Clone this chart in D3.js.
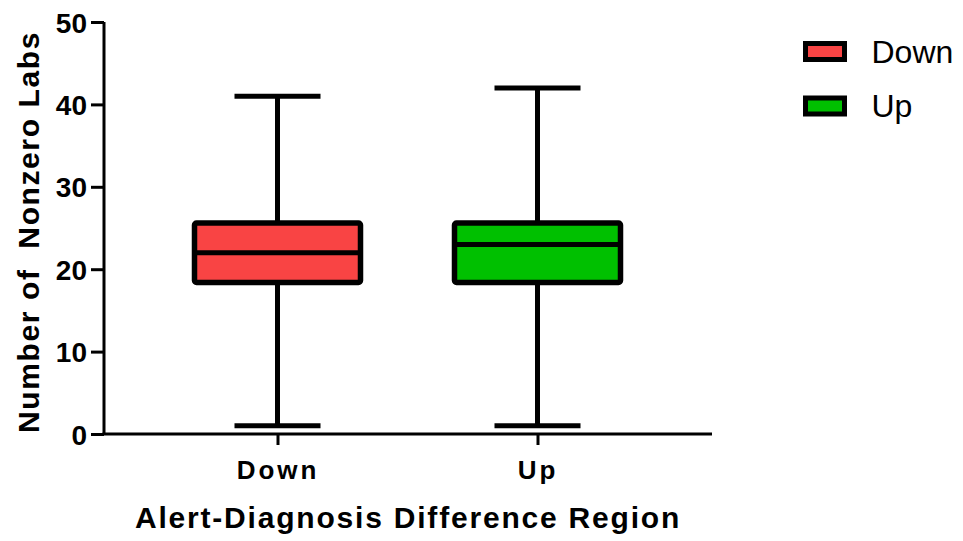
<!DOCTYPE html>
<html>
<head>
<meta charset="utf-8">
<script src="https://cdn.jsdelivr.net/npm/d3@7"></script>
<style>
  html, body { margin: 0; padding: 0; background: #fff; }
  svg { display: block; font-family: "Liberation Sans", Arial, sans-serif; }
</style>
</head>
<body>
<svg id="chart" width="963" height="541"></svg>
<script>
// Box-plot summaries per group
const categories = ["Down", "Up"];
const whiskerMin = [1, 1];
const q1 = [18.4, 18.4];
const median = [22, 23];
const q3 = [25.6, 25.6];
const whiskerMax = [41, 42];
const fillColors = ["#F94444", "#00C000"];
const yTicks = [0, 10, 20, 30, 40, 50];

const svg = d3.select("#chart");
const margin = { left: 104, top: 22, bottom: 107 };
const W = 963, H = 541;

const y = d3.scaleLinear().domain([0, 50]).range([H - margin.bottom, margin.top]);
const x = d3.scalePoint().domain(categories).range([277.5, 537.5]);

const boxW = 166, capW = 86;

// Y axis
const yAxis = svg.append("g")
  .attr("transform", `translate(${margin.left},0)`)
  .call(d3.axisLeft(y).tickValues(yTicks).tickSize(13).tickPadding(4).tickFormat(d3.format("d")));
yAxis.select(".domain").attr("stroke", "#000").attr("stroke-width", 3)
  .attr("d", `M0,${y(50)}V${y(0)}`);
yAxis.selectAll(".tick line").attr("stroke", "#000").attr("stroke-width", 3);
yAxis.selectAll(".tick text").attr("font-size", 28).attr("font-weight", "bold")
  .attr("fill", "#000").attr("dy", "0.36em");

// X axis
const xAxis = svg.append("g")
  .attr("transform", `translate(0,${y(0)})`)
  .call(d3.axisBottom(x).tickSize(11).tickPadding(16));
xAxis.select(".domain").attr("stroke", "#000").attr("stroke-width", 3)
  .attr("d", `M${margin.left - 1.5},0H712`);
xAxis.selectAll(".tick line").attr("stroke", "#000").attr("stroke-width", 3);
xAxis.selectAll(".tick text").attr("font-size", 26).attr("font-weight", "bold")
  .attr("letter-spacing", 3).attr("fill", "#000");

// Boxes and whiskers
const groups = svg.append("g").selectAll("g").data(categories).join("g");
groups.each(function (c, i) {
  const g = d3.select(this);
  const cx = x(c);
  // whiskers
  g.append("line").attr("x1", cx).attr("x2", cx).attr("y1", y(whiskerMin[i])).attr("y2", y(q1[i]))
    .attr("stroke", "#000").attr("stroke-width", 5);
  g.append("line").attr("x1", cx).attr("x2", cx).attr("y1", y(q3[i])).attr("y2", y(whiskerMax[i]))
    .attr("stroke", "#000").attr("stroke-width", 5);
  // caps
  [whiskerMin[i], whiskerMax[i]].forEach(v => {
    g.append("line").attr("x1", cx - capW / 2).attr("x2", cx + capW / 2).attr("y1", y(v)).attr("y2", y(v))
      .attr("stroke", "#000").attr("stroke-width", 5);
  });
  // box
  g.append("rect").attr("x", cx - boxW / 2).attr("y", y(q3[i]))
    .attr("width", boxW).attr("height", y(q1[i]) - y(q3[i]))
    .attr("fill", fillColors[i]).attr("stroke", "#000").attr("stroke-width", 5.5)
    .attr("rx", 2);
  // median
  g.append("line").attr("x1", cx - boxW / 2).attr("x2", cx + boxW / 2)
    .attr("y1", y(median[i])).attr("y2", y(median[i]))
    .attr("stroke", "#000").attr("stroke-width", 5);
});

// Axis titles
svg.append("text").attr("x", 408).attr("y", 528).attr("text-anchor", "middle")
  .attr("font-size", 30).attr("font-weight", "bold").attr("letter-spacing", 1.8)
  .text("Alert-Diagnosis Difference Region");
svg.append("text").attr("transform", `translate(39,232) rotate(-90)`).attr("text-anchor", "middle")
  .attr("font-size", 30).attr("font-weight", "bold").attr("letter-spacing", 1.6)
  .attr("xml:space", "preserve")
  .text("Number of  Nonzero Labs");

// Legend
const legend = svg.append("g").selectAll("g").data(categories).join("g")
  .attr("transform", (d, i) => `translate(805.5,${51.5 + i * 54.5})`);
legend.append("rect").attr("x", 0).attr("y", -8).attr("width", 39).attr("height", 16)
  .attr("fill", (d, i) => fillColors[i]).attr("stroke", "#000").attr("stroke-width", 5);
legend.append("text").attr("x", 66).attr("y", 0).attr("dy", "0.35em")
  .attr("font-size", 32).attr("fill", "#000").text(d => d);
</script>
</body>
</html>
